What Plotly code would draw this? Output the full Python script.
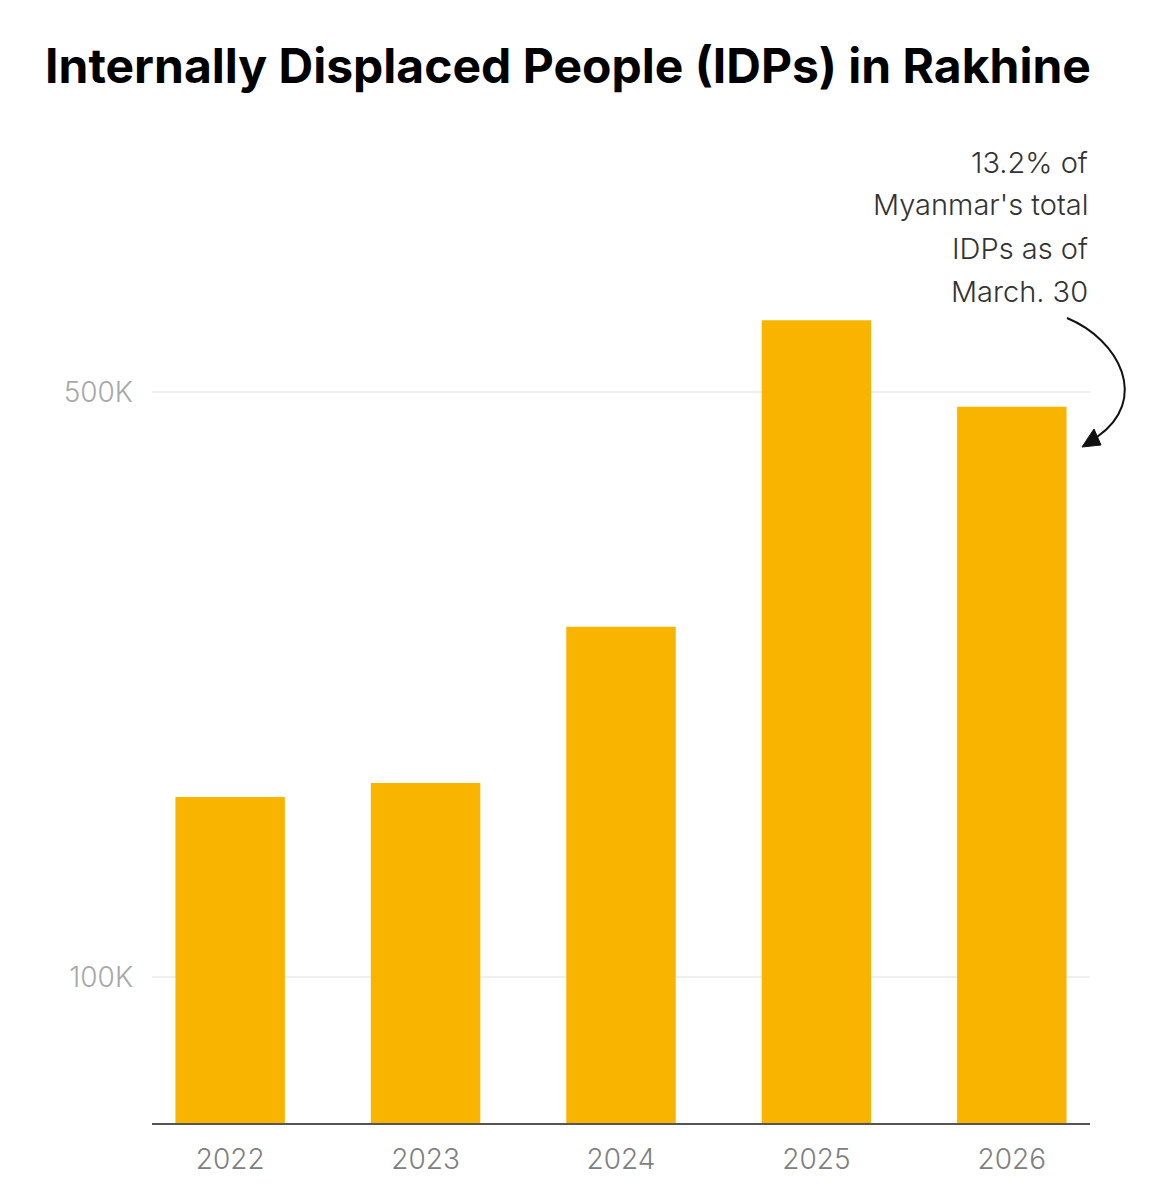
import plotly.graph_objects as go
import math

years = ["2022", "2023", "2024", "2025", "2026"]
idps = [164000, 170500, 262000, 609000, 480000]
tick_vals = [100000, 500000]
tick_text = ["100K", "500K"]
title_text = "Internally Displaced People (IDPs) in Rakhine"
note_lines = ["13.2% of", "Myanmar's total", "IDPs as of", "March. 30"]

W, H = 1150, 1200
L, R, T, B = 152, 60, 140, 77
PW, PH = W - L - R, H - T - B
FONT = "Inter, Roboto, 'Open Sans', sans-serif"


def px(x):
    return (x - L) / PW


def py(y):
    return (H - B - y) / PH


fig = go.Figure(go.Bar(
    x=years, y=idps, marker=dict(color="#F9B400", line=dict(width=0)),
    hoverinfo="x+y",
))

fig.update_layout(
    width=W, height=H,
    margin=dict(l=L, r=R, t=T, b=B),
    paper_bgcolor="white", plot_bgcolor="white",
    bargap=0.44,
    showlegend=False,
    font=dict(family=FONT, weight=300),
    title=dict(
        text=title_text, x=568 / W, xanchor="center", xref="container",
        y=1 - 66 / H, yanchor="middle", yref="container",
        font=dict(family=FONT, size=48, color="#000", weight=700),
    ),
    xaxis=dict(
        type="category", range=[-0.4, 4.4],
        showline=True, linecolor="#555", linewidth=1.5,
        showgrid=False, ticks="",
        tickfont=dict(size=28, color="#808080", weight=300),
        ticklabelstandoff=11,
    ),
    yaxis=dict(
        type="log", range=[math.log10(66900), 6.0],
        tickvals=tick_vals, ticktext=tick_text,
        showgrid=True, gridcolor="#efefef", gridwidth=1.5,
        zeroline=False, showline=False, ticks="",
        tickfont=dict(size=28, color="#a8a8a8", weight=300),
        ticklabelstandoff=18,
    ),
)

baselines = [172, 215, 258, 301]
for line, b in zip(note_lines, baselines):
    fig.add_annotation(
        text=line, xref="paper", yref="paper",
        x=px(1090), y=py(b - 10), xanchor="right", yanchor="middle",
        showarrow=False,
        font=dict(size=29, color="#333", weight=300),
    )

# curved arrow
p0, c1, c2, p3 = (1067, 318), (1120, 340), (1150, 400), (1097, 437)
path = "M {} {} C {} {}, {} {}, {} {}".format(
    px(p0[0]), py(p0[1]), px(c1[0]), py(c1[1]),
    px(c2[0]), py(c2[1]), px(p3[0]), py(p3[1]))
fig.add_shape(type="path", path=path, xref="paper", yref="paper",
              line=dict(color="#111", width=2))
tri = "M {} {} L {} {} L {} {} Z".format(
    px(1082), py(447), px(1094), py(429), px(1101), py(445))
fig.add_shape(type="path", path=tri, xref="paper", yref="paper",
              line=dict(color="#111", width=1), fillcolor="#111")

fig.write_html("out.html")
